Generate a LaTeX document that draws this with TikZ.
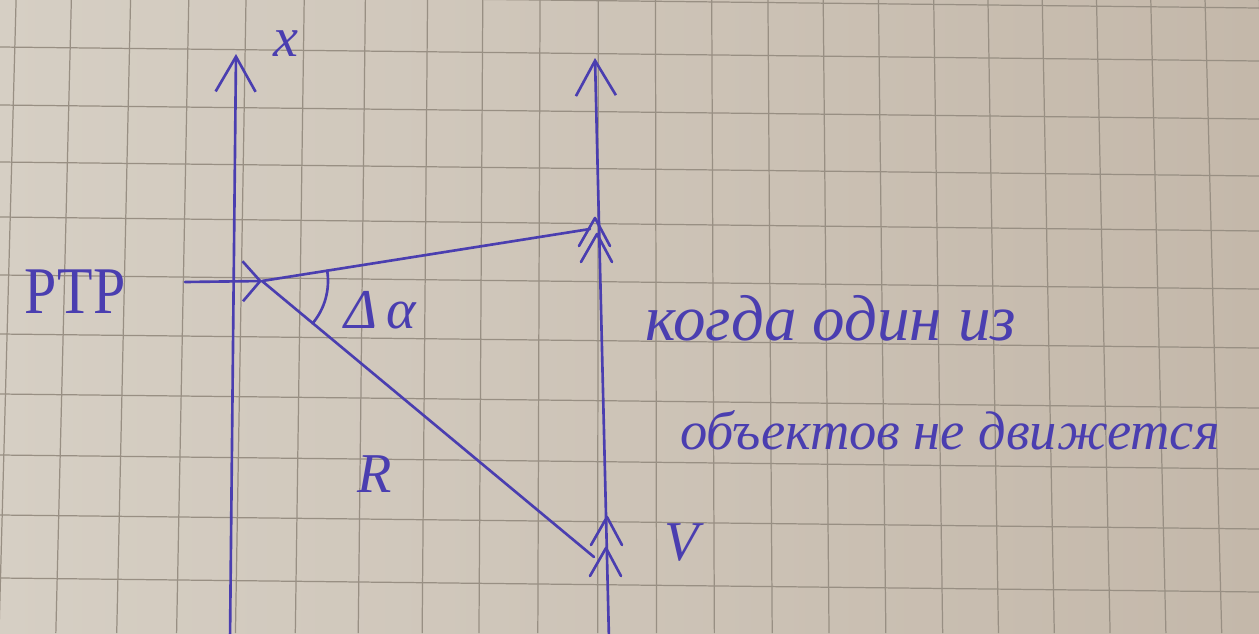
\documentclass[tikz,border=0pt]{standalone}
\usepackage{fontspec}
\setmainfont{Liberation Serif}
\usetikzlibrary{arrows.meta}
\definecolor{paperL}{RGB}{214,207,196}
\definecolor{paperR}{RGB}{196,184,170}
\definecolor{gridline}{RGB}{152,143,131}
\definecolor{ink}{RGB}{74,62,176}
\tikzset{
  pen/.style={ink,line width=1.5pt,line cap=round,line join=round},
  hand/.style={ink,inner sep=0pt,font=\itshape\fontsize{32}{38}\selectfont},
  axis/.style={pen,-{Straight Barb[length=7mm,width=8mm]}},
  chev/.pic={\draw[pen] (-16,28) -- (0,0) -- (15,28);}
}

\begin{document}
\begin{tikzpicture}[x=0.02cm,y=-0.02cm]
    \useasboundingbox (0,0) rectangle (1259,633);
    % paper
    \shade[left color=paperL,right color=paperR] (0,0) rectangle (1259,633);
    \foreach \y in {-6,47,105,162,217,275,334,394,455,515,578}
        \draw[gridline,line width=0.7pt] (0,\y) -- (1259,\y+14);
    \foreach \x in {8,64,124,183,241,300,362,425,481,539,598,656,713,770,826,882,938,993,1048,1103,1158,1213,1268}
        \draw[gridline,line width=0.7pt] (\x-0.0133*\x+8.2,0) -- (\x+0.0147*\x-9.1,633);

    \coordinate (o) at (262,281);
    \coordinate (xbot) at (230,640);
    \coordinate (xtop) at (236,54);
    \coordinate (vbot) at (609,640);
    \coordinate (vtop) at (595,58);
    \coordinate (a) at (590,229);
    \coordinate (b) at (594,557);
    \coordinate (rtp) at (185,282);

    \node[hand] (xlab) at (286,44) {x};
    \node[hand,font=\fontsize{33}{40}\selectfont,yscale=1.15] (rtplab) at (75,292) {РТР};
    \node[hand] (dalpha) at (380,310) {Δ\,α};
    \node[hand] (rlab) at (375,474) {R};
    \node[hand] (vlab) at (682,543) {V};
    \node[hand,anchor=west,font=\itshape\fontsize{37}{44}\selectfont] (line1) at (645,318) {когда один из};
    \node[hand,anchor=west,font=\itshape\fontsize{31}{38}\selectfont] (line2) at (680,430) {объектов не движется};

%   \draw[pen] (a) -- (b);
    \draw[axis] (xbot) -- (xtop);
    \draw[axis] (vbot) -- (vtop);
    \draw[pen,-{Straight Barb[length=3.5mm,width=8mm]}] (rtp) -- (o);
    \draw[pen] (o) -- (a);
    \draw[pen] (o) -- (b);
    \draw[pen] (o) ++(-9:66) arc[start angle=-9,end angle=40,radius=66];
    \pic at (595,218) {chev};
    \pic at (597,234) {chev};
    \pic at (607,517) {chev};
    \pic at (606,548) {chev};
\end{tikzpicture}
\end{document}
